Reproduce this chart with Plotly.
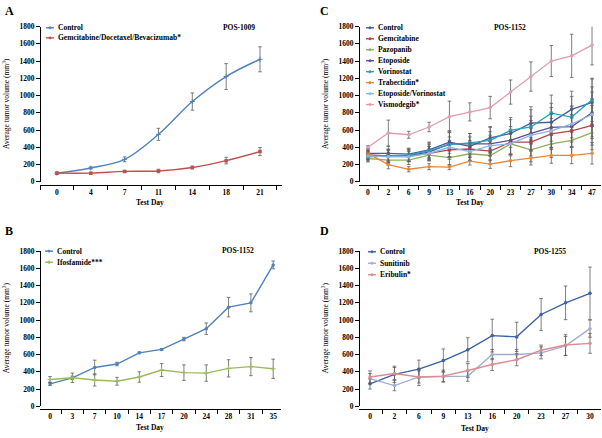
import plotly.graph_objects as go

W, H = 602, 438
FONT = "Liberation Serif"
ERR_COLOR = "#606060"

# ---------------- Data ----------------
# Panel A (POS-1009)
a_days = ["0", "4", "7", "11", "14", "18", "21"]
a_control = [100, 160, 260, 550, 930, 1220, 1420]
a_control_err = [10, 12, 28, 70, 100, 150, 145]
a_gdb = [100, 100, 120, 125, 165, 245, 350]
a_gdb_err = [10, 10, 12, 20, 15, 38, 47]

# Panel B (POS-1152)
b_days = ["0", "3", "7", "10", "14", "17", "20", "24", "28", "31", "35"]
b_control = [260, 330, 450, 490, 620, 660, 780, 900, 1150, 1200, 1640]
b_control_err = [20, 20, 85, 20, 10, 10, 20, 66, 113, 104, 45]
b_ifos = [310, 330, 305, 290, 340, 420, 390, 385, 440, 460, 435]
b_ifos_err = [35, 55, 70, 45, 60, 75, 90, 95, 100, 105, 112]

# Panel C (POS-1152)
c_days = ["0", "2", "6", "9", "13", "16", "20", "23", "27", "30", "34", "47"]
c_control = [330, 330, 320, 370, 460, 410, 510, 560, 680, 690, 840, 920]
c_control_err = [60, 80, 70, 90, 130, 110, 130, 160, 190, 220, 210, 270]
c_gemcitabine = [310, 300, 300, 330, 370, 380, 355, 460, 460, 555, 590, 655]
c_gemcitabine_err = [50, 70, 60, 80, 110, 100, 110, 140, 160, 180, 190, 230]
c_pazopanib = [270, 250, 250, 310, 280, 325, 305, 440, 370, 440, 480, 570]
c_pazopanib_err = [40, 60, 50, 70, 90, 80, 100, 120, 140, 160, 170, 200]
c_etoposide = [310, 300, 305, 345, 440, 440, 440, 480, 560, 630, 640, 800]
c_etoposide_err = [50, 80, 70, 90, 150, 120, 140, 160, 200, 230, 230, 300]
c_vorinostat = [290, 300, 310, 360, 430, 450, 480, 595, 635, 795, 750, 950]
c_vorinostat_err = [50, 70, 70, 90, 140, 110, 150, 150, 200, 210, 240, 250]
c_trabectidin = [330, 200, 145, 175, 170, 240, 205, 245, 275, 305, 305, 330]
c_trabectidin_err = [40, 50, 30, 35, 30, 45, 50, 70, 80, 90, 95, 125]
c_etop_vor = [300, 290, 290, 330, 400, 350, 420, 440, 540, 590, 670, 780]
c_etop_vor_err = [50, 70, 60, 80, 120, 100, 120, 140, 170, 200, 210, 260]
c_vismodegib = [400, 565, 545, 635, 755, 810, 860, 1040, 1220, 1400, 1460, 1585]
c_vismodegib_err = [20, 150, 40, 55, 180, 105, 130, 140, 170, 180, 250, 230]

# Panel D (POS-1255)
d_days = ["0", "2", "6", "9", "13", "16", "20", "23", "27", "30"]
d_control = [260, 370, 430, 530, 655, 820, 805, 1065, 1200, 1310]
d_control_err = [60, 95, 105, 135, 140, 190, 170, 185, 195, 305]
d_sunitinib = [320, 240, 340, 345, 350, 600, 600, 620, 700, 900]
d_sunitinib_err = [60, 60, 70, 60, 60, 60, 60, 70, 110, 100]
d_eribulin = [340, 380, 340, 350, 415, 485, 540, 650, 710, 730]
d_eribulin_err = [70, 70, 100, 70, 80, 70, 70, 60, 120, 115]

# ---------------- Layout helpers ----------------
def px_x(p):
    return p / W

def px_y(p):
    return 1 - p / H

panels = {
    # key: (xaxis id, yaxis id, x-left px, x-right px, y0 px(0), y1 px(1800), xline px, xrange)
    "A": ("x", "y", 40, 282, 181.5, 23, 184.5, [-0.5, 6.65]),
    "C": ("x2", "y2", 359, 601, 181.5, 23, 184.5, [-0.44, 11.44]),
    "B": ("x3", "y3", 40, 281, 410.7, 252.3, 413.7, [-0.45, 10.35]),
    "D": ("x4", "y4", 359, 601, 410.7, 252.3, 413.7, [-0.45, 9.45]),
}

fig = go.Figure()

def add_series(panel, days, vals, errs, color, shape="linear", symbol="circle", width=1.4):
    xa, ya = panels[panel][0], panels[panel][1]
    fig.add_trace(go.Scatter(
        x=days, y=vals, xaxis=xa, yaxis=ya, mode="lines+markers",
        line=dict(color=color, width=width, shape=shape),
        marker=dict(color=color, size=3.5, symbol=symbol),
        error_y=dict(type="data", array=errs, visible=True, color=ERR_COLOR,
                     thickness=0.8, width=1.8),
        showlegend=False,
    ))

# Panel A
A_COLORS = ["#4f81bd", "#c0504d"]
add_series("A", a_days, a_control, a_control_err, A_COLORS[0], shape="spline", symbol="cross-thin-open")
add_series("A", a_days, a_gdb, a_gdb_err, A_COLORS[1], shape="spline", symbol="square")

# Panel B
B_COLORS = ["#4f81bd", "#9bbb59"]
add_series("B", b_days, b_control, b_control_err, B_COLORS[0])
add_series("B", b_days, b_ifos, b_ifos_err, B_COLORS[1], symbol="cross-thin-open")

# Panel C
c_names = ["Control", "Gemcitabine", "Pazopanib", "Etoposide", "Vorinostat",
           "Trabectidin*", "Etoposide/Vorinostat", "Vismodegib*"]
C_COLORS = ["#3e5f9e", "#b6434a", "#8eb05a", "#5c4e96", "#2b9fb9", "#ee8733", "#8fb4e3", "#e09eae"]
c_vals = [c_control, c_gemcitabine, c_pazopanib, c_etoposide, c_vorinostat,
          c_trabectidin, c_etop_vor, c_vismodegib]
c_errs = [c_control_err, c_gemcitabine_err, c_pazopanib_err, c_etoposide_err,
          c_vorinostat_err, c_trabectidin_err, c_etop_vor_err, c_vismodegib_err]
c_symbols = ["circle", "square", "triangle-up", "circle", "square", "circle", "circle", "circle"]
for v, e, col, sym in zip(c_vals, c_errs, C_COLORS, c_symbols):
    add_series("C", c_days, v, e, col, symbol=sym, width=1.3)

# Panel D
D_COLORS = ["#3b62a3", "#a0aed2", "#dc8d90"]
add_series("D", d_days, d_control, d_control_err, D_COLORS[0])
add_series("D", d_days, d_sunitinib, d_sunitinib_err, D_COLORS[1])
add_series("D", d_days, d_eribulin, d_eribulin_err, D_COLORS[2])

tickfont = dict(family=FONT, size=7.5, color="black", weight="bold")
layout = dict(width=W, height=H, margin=dict(l=0, r=0, t=0, b=0),
              paper_bgcolor="white", plot_bgcolor="rgba(0,0,0,0)", showlegend=False)

for key, (xa, ya, xl, xr, y0, y1, xline, xr_range) in panels.items():
    xname = "xaxis" + xa[1:]
    yname = "yaxis" + ya[1:]
    layout[xname] = dict(
        domain=[px_x(xl), px_x(xr)], anchor="free", position=px_y(xline),
        type="category", range=xr_range, showline=True, linecolor="black", linewidth=1,
        ticks="outside", ticklen=4, tickcolor="black", tickwidth=1, tickson="boundaries",
        tickfont=tickfont, showgrid=False, zeroline=False, fixedrange=True,
    )
    layout[yname] = dict(
        domain=[px_y(y0), px_y(y1)], anchor="free", position=px_x(xl),
        range=[0, 1800], dtick=200, tick0=0, showline=True, linecolor="black", linewidth=1,
        ticks="outside", ticklen=4, tickcolor="black", tickwidth=1,
        tickfont=tickfont, showgrid=False, zeroline=False, fixedrange=True,
    )

fig.update_layout(**layout)

annotations = []
shapes = []

def ann(text, x, y, size=7.5, bold=True, xanchor="center", yanchor="middle", angle=0):
    annotations.append(dict(
        text=text, x=px_x(x), y=px_y(y), xref="paper", yref="paper", showarrow=False,
        xanchor=xanchor, yanchor=yanchor, textangle=angle,
        font=dict(family=FONT, size=size, color="black", weight="bold" if bold else "normal"),
    ))

# Panel letters
ann("A", 9, 7, size=12)
ann("C", 324, 7, size=12)
ann("B", 9, 232, size=12)
ann("D", 324, 232, size=12)

# Study labels
ann("POS-1009", 239, 24)
ann("POS-1152", 510, 24)
ann("POS-1152", 238, 252)
ann("POS-1255", 550, 253)

# Axis titles
ytitle = "Average tumor volume (mm<sup>3</sup>)"
for x, y in [(6, 102), (325, 102), (6, 331), (325, 331)]:
    ann(ytitle, x, y, size=7.5, bold=False, angle=-90)
for x, y in [(150, 203), (470, 203), (150, 432), (475, 433)]:
    ann("Test Day", x, y, size=7.5)

# Legends (drawn manually for compact spacing)
def legend(names, colors, sym_x0, text_x, y_first, spacing):
    for i, (n, c) in enumerate(zip(names, colors)):
        y = y_first + i * spacing
        shapes.append(dict(type="line", xref="paper", yref="paper",
                           x0=px_x(sym_x0), x1=px_x(sym_x0 + 8), y0=px_y(y), y1=px_y(y),
                           line=dict(color=c, width=1.4)))
        shapes.append(dict(type="rect", xref="paper", yref="paper",
                           x0=px_x(sym_x0 + 3), x1=px_x(sym_x0 + 5),
                           y0=px_y(y - 1), y1=px_y(y + 1),
                           line=dict(color=c, width=0.5), fillcolor=c))
        ann(n, text_x, y, xanchor="left")

legend(["Control", "Gemcitabine/Docetaxel/Bevacizumab*"], A_COLORS, 46, 56, 24.3, 10.3)
legend(c_names, C_COLORS, 366, 376, 24.3, 11.2)
legend(["Control", "Ifosfamide***"], B_COLORS, 45, 55, 252.3, 11.4)
legend(["Control", "Sunitinib", "Eribulin*"], D_COLORS, 368, 378, 253, 11.7)

fig.update_layout(annotations=annotations, shapes=shapes)
fig.write_html("out.html",
               config={"displayModeBar": False, "staticPlot": True},
               post_script="document.body.style.margin='0';document.body.style.overflow='hidden';")
